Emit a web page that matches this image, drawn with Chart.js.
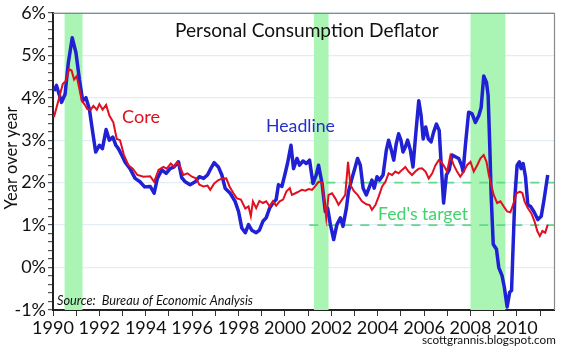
<!DOCTYPE html>
<html><head><meta charset="utf-8">
<script src="https://cdn.jsdelivr.net/npm/chart.js@4.4.0/dist/chart.umd.min.js"></script>
<style>html,body{margin:0;padding:0;background:#fff;}#wrap{width:567px;height:354px;}</style>
</head><body><div id="wrap"><canvas id="c" width="567" height="354"></canvas></div>
<script>
// ---- data ----
const headlineYears = [1990.04,1990.15,1990.37,1990.52,1990.66,1990.83,1990.99,1991.14,1991.28,1991.42,1991.57,1991.71,1991.84,1992.00,1992.13,1992.29,1992.43,1992.58,1992.71,1992.82,1992.96,1993.10,1993.32,1993.54,1993.75,1993.95,1994.19,1994.36,1994.50,1994.69,1994.88,1995.05,1995.22,1995.41,1995.55,1995.70,1995.91,1996.13,1996.31,1996.49,1996.66,1996.80,1996.95,1997.13,1997.28,1997.42,1997.64,1997.85,1998.00,1998.14,1998.29,1998.43,1998.57,1998.76,1998.90,1999.05,1999.19,1999.34,1999.48,1999.62,1999.72,1999.87,2000.01,2000.11,2000.26,2000.37,2000.52,2000.63,2000.78,2000.92,2001.06,2001.21,2001.35,2001.45,2001.60,2001.74,2001.84,2001.96,2002.10,2002.24,2002.39,2002.50,2002.65,2002.74,2002.89,2003.03,2003.13,2003.25,2003.37,2003.51,2003.65,2003.75,2003.85,2003.97,2004.08,2004.23,2004.37,2004.47,2004.57,2004.69,2004.80,2004.90,2005.00,2005.09,2005.19,2005.29,2005.41,2005.52,2005.64,2005.77,2005.87,2005.96,2006.07,2006.18,2006.30,2006.41,2006.53,2006.65,2006.73,2006.84,2006.96,2007.08,2007.21,2007.35,2007.49,2007.62,2007.68,2007.78,2007.92,2008.07,2008.21,2008.36,2008.46,2008.57,2008.69,2008.76,2008.83,2008.89,2008.98,2009.12,2009.22,2009.36,2009.46,2009.58,2009.69,2009.77,2009.84,2009.91,2010.01,2010.11,2010.18,2010.27,2010.37,2010.47,2010.59,2010.73,2010.90,2011.05,2011.16,2011.33];
const headlineValues = [4.16,4.29,3.89,4.08,4.82,5.41,5.06,4.43,3.93,4.00,3.73,3.19,2.72,2.88,2.80,3.25,3.00,3.07,2.88,2.80,2.65,2.49,2.33,2.10,2.02,1.90,1.91,1.75,2.10,2.30,2.22,2.33,2.37,2.49,2.12,2.02,1.95,2.02,2.14,2.10,2.18,2.33,2.47,2.37,2.18,1.87,1.75,1.56,1.32,0.93,0.82,1.01,0.88,0.82,0.88,1.09,1.17,1.40,1.52,1.60,1.95,1.91,2.22,2.45,2.88,2.33,2.57,2.41,2.51,2.45,2.53,1.98,2.18,2.41,1.98,1.32,1.40,1.01,0.66,1.01,1.17,0.97,1.40,1.79,2.10,2.37,2.57,2.41,1.87,1.71,1.91,2.06,1.87,2.14,2.06,2.18,2.76,3.00,2.80,2.53,2.92,3.15,3.00,2.72,2.84,3.00,2.76,2.37,3.15,3.93,3.58,3.03,3.31,3.03,2.96,3.19,3.38,3.23,2.49,1.52,2.18,2.30,2.65,2.61,2.57,2.40,2.26,2.88,3.66,3.62,3.42,3.58,3.77,4.51,4.36,4.05,2.88,1.71,0.55,0.43,0.00,-0.19,-0.47,-0.93,-0.58,-0.54,0.55,1.63,2.41,2.49,2.33,2.45,2.14,1.48,1.44,1.32,1.13,1.21,1.56,2.18];
const coreYears = [1990.04,1990.23,1990.42,1990.56,1990.69,1990.80,1990.91,1991.02,1991.14,1991.24,1991.35,1991.48,1991.63,1991.74,1991.89,1992.00,1992.14,1992.29,1992.43,1992.60,1992.75,1992.89,1993.06,1993.25,1993.44,1993.64,1993.90,1994.19,1994.36,1994.55,1994.76,1994.90,1995.08,1995.22,1995.36,1995.51,1995.62,1995.80,1995.99,1996.17,1996.31,1996.49,1996.66,1996.78,1996.95,1997.13,1997.28,1997.47,1997.61,1997.78,1997.93,1998.10,1998.29,1998.43,1998.53,1998.62,1998.76,1998.90,1999.05,1999.19,1999.34,1999.48,1999.62,1999.77,1999.92,2000.06,2000.21,2000.30,2000.45,2000.59,2000.73,2000.88,2001.02,2001.17,2001.30,2001.45,2001.60,2001.70,2001.78,2001.88,2002.03,2002.17,2002.31,2002.46,2002.60,2002.72,2002.82,2002.96,2003.13,2003.32,2003.51,2003.65,2003.75,2003.90,2004.04,2004.19,2004.33,2004.47,2004.62,2004.76,2004.90,2005.05,2005.19,2005.33,2005.48,2005.62,2005.77,2005.91,2006.06,2006.20,2006.35,2006.49,2006.63,2006.73,2006.84,2006.99,2007.13,2007.28,2007.42,2007.56,2007.71,2007.85,2008.00,2008.14,2008.29,2008.43,2008.57,2008.69,2008.79,2008.89,2009.00,2009.15,2009.29,2009.43,2009.58,2009.72,2009.86,2009.98,2010.13,2010.24,2010.33,2010.47,2010.62,2010.76,2010.88,2010.99,2011.10,2011.22,2011.33];
const coreValues = [3.54,3.93,4.32,4.40,4.67,4.64,4.43,4.51,4.20,3.93,3.85,3.73,3.72,3.81,3.72,3.85,3.72,3.83,3.58,3.42,3.03,3.00,2.65,2.41,2.33,2.18,2.14,2.15,2.02,2.30,2.37,2.33,2.45,2.37,2.49,2.33,2.18,2.22,2.14,2.10,1.95,1.91,1.93,1.83,1.98,2.06,2.09,2.10,1.91,1.75,1.63,1.60,1.39,1.44,1.21,1.56,1.40,1.57,1.52,1.56,1.44,1.56,1.46,1.56,1.60,1.79,1.87,1.71,1.75,1.79,1.83,1.81,1.85,1.83,1.91,2.02,2.00,1.56,1.17,1.71,1.75,1.63,1.48,1.60,1.71,2.49,1.95,1.81,1.71,1.56,1.49,1.47,1.36,1.47,1.67,1.91,2.02,2.22,2.18,2.26,2.22,2.30,2.37,2.26,2.18,2.26,2.33,2.34,2.26,2.10,2.22,2.41,2.53,2.49,2.41,2.26,2.63,2.41,2.26,2.14,2.26,2.41,2.49,2.26,2.41,2.57,2.65,2.49,2.18,1.95,1.71,1.52,1.56,1.44,1.32,1.30,1.52,1.75,1.79,1.75,1.56,1.40,1.28,1.09,0.86,0.74,0.86,0.82,1.01];
const recessionStart = [1990.5, 2001.25, 2008.0];
const recessionEnd   = [1991.27, 2001.88, 2009.5];
const targetLevels = [2, 1];
const targetFrom = 2001.05;
const xMin = 1990, xMax = 2011.6;
const yMin = -1, yMax = 6;

const FONT = 'Lato';
const isInt = v => Math.abs(v - Math.round(v)) < 1e-6;

const recessionPlugin = {
  id: 'recessions',
  beforeDatasetsDraw(chart) {
    const {ctx, chartArea: a, scales: {x}} = chart;
    ctx.save();
    ctx.fillStyle = '#aaf5b4';
    for (let i = 0; i < recessionStart.length; i++) {
      const x0 = x.getPixelForValue(recessionStart[i]);
      const x1 = x.getPixelForValue(recessionEnd[i]);
      ctx.fillRect(x0, a.top, x1 - x0, a.bottom - a.top);
    }
    ctx.restore();
  }
};

function fitText(ctx, text, x, y, width, style, color, align) {
  ctx.font = style + ' 20px ' + FONT;
  const w = ctx.measureText(text).width;
  const size = 20 * width / w;
  ctx.font = style + ' ' + size.toFixed(2) + 'px ' + FONT;
  ctx.fillStyle = color;
  ctx.textAlign = align || 'left';
  ctx.textBaseline = 'alphabetic';
  ctx.fillText(text, x, y);
}

const annotPlugin = {
  id: 'annot',
  afterDraw(chart) {
    const {ctx, chartArea: a} = chart;
    ctx.save();
    // frame top / right
    ctx.strokeStyle = '#8a8a8a';
    ctx.lineWidth = 1.2;
    ctx.beginPath();
    ctx.moveTo(a.left, a.top + 0.5);
    ctx.lineTo(a.right + 0.5, a.top + 0.5);
    ctx.lineTo(a.right + 0.5, a.bottom);
    ctx.stroke();
    fitText(ctx, 'Personal Consumption Deflator', 175, 37, 264, 'normal', '#111');
    fitText(ctx, 'Core', 122, 123, 38, 'normal', '#dd1020');
    fitText(ctx, 'Headline', 266, 131.5, 69, 'normal', '#2630c8');
    fitText(ctx, "Fed's target", 378, 220, 90, 'normal', '#3fd46a');
    fitText(ctx, 'Source:  Bureau of Economic Analysis', 57, 305, 196, 'italic', '#111');
    fitText(ctx, 'scottgrannis.blogspot.com', 422, 344, 134, 'normal', '#111');
    ctx.translate(17, 158);
    ctx.rotate(-Math.PI / 2);
    fitText(ctx, 'Year over year', 0, 0, 103, 'normal', '#111', 'center');
    ctx.restore();
  }
};

const pts = (xs, ys) => xs.map((x, i) => ({x, y: ys[i]}));

new Chart(document.getElementById('c'), {
  type: 'line',
  data: {
    datasets: [
      {label: 'Core', data: pts(coreYears, coreValues), borderColor: '#e01020', borderWidth: 2, pointRadius: 0, tension: 0, order: 0},
      {label: 'Headline', data: pts(headlineYears, headlineValues), borderColor: '#2020d4', borderWidth: 3.5, pointRadius: 0, tension: 0, order: 1, borderJoinStyle: 'round'},
      ...targetLevels.map(l => ({label: 'target ' + l, data: [{x: targetFrom, y: l}, {x: xMax, y: l}], borderColor: '#5fd98a', borderWidth: 1.6, borderDash: [9, 8], pointRadius: 0, order: 2}))
    ]
  },
  options: {
    responsive: false,
    animation: false,
    layout: {padding: {left: 0, right: 13, top: 10, bottom: 0}},
    plugins: {legend: {display: false}, tooltip: {enabled: false}, title: {display: false}},
    scales: {
      x: {
        type: 'linear', min: xMin, max: xMax,
        afterFit: s => { s.height = 44; },
        border: {color: '#222', width: 2},
        grid: {drawOnChartArea: false, tickLength: 6, tickColor: '#333'},
        ticks: {stepSize: 1, autoSkip: false, includeBounds: false, maxRotation: 0, padding: 1,
          color: '#111', font: {family: FONT, size: 18},
          callback: v => (isInt(v) && Math.round(v) % 2 === 0) ? String(Math.round(v)) : ''}
      },
      y: {
        min: yMin, max: yMax,
        afterFit: s => { s.width = 53; },
        border: {color: '#222', width: 2},
        grid: {
          color: c => (c.tick && isInt(c.tick.value)) ? '#e2edf7' : 'rgba(0,0,0,0)',
          lineWidth: 1.2,
          tickColor: '#555', tickLength: 5
        },
        ticks: {stepSize: 0.2, autoSkip: false, padding: 2, color: '#111', font: {family: FONT, size: 18},
          callback: v => isInt(v) ? Math.round(v) + '%' : ''}
      }
    }
  },
  plugins: [recessionPlugin, annotPlugin]
});
</script></body></html>
